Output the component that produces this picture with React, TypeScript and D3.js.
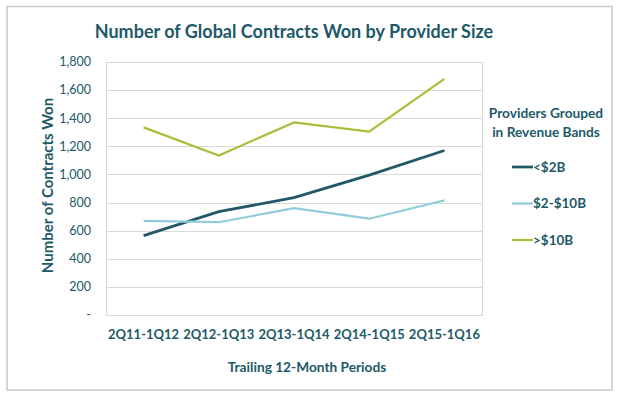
import React, { useEffect, useRef } from 'react';
import * as d3 from 'd3';

const periods = ['2Q11-1Q12', '2Q12-1Q13', '2Q13-1Q14', '2Q14-1Q15', '2Q15-1Q16'];
const seriesNames = ['<$2B', '$2-$10B', '>$10B'];
const under2B = [565, 735, 835, 995, 1170];
const mid2to10B = [670, 660, 760, 685, 815];
const over10B = [1335, 1135, 1370, 1305, 1680];
const yTicks = [0, 200, 400, 600, 800, 1000, 1200, 1400, 1600, 1800];

const colors = ['#215968', '#92CDDC', '#A9BE3A'];
const textColor = '#215968';
const font = 'Lato, "Open Sans", sans-serif';

const App = () => {
    const ref = useRef<SVGSVGElement | null>(null);

    useEffect(() => {
        if (!ref.current) return;
        const svg = d3.select(ref.current);
        svg.selectAll('*').remove();

        const W = 620, H = 397;
        const margin = { top: 62, left: 106, right: 138, bottom: 82 };
        const innerW = W - margin.left - margin.right;
        const innerH = H - margin.top - margin.bottom;

        // outer frame
        svg.append('rect')
            .attr('x', 7).attr('y', 6.5)
            .attr('width', 605).attr('height', 383.5)
            .attr('fill', '#fff')
            .attr('stroke', '#c9c9c9')
            .attr('stroke-width', 1.5);

        const g = svg.append('g').attr('transform', `translate(${margin.left},${margin.top})`);

        const x = d3.scaleBand().domain(periods).range([0, innerW]);
        const y = d3.scaleLinear().domain([0, 1800]).range([innerH, 0]);

        // grid
        g.selectAll('.grid')
            .data(yTicks)
            .enter().append('line')
            .attr('x1', 0).attr('x2', innerW)
            .attr('y1', d => Math.round(y(d)) + 0.5)
            .attr('y2', d => Math.round(y(d)) + 0.5)
            .attr('stroke', '#d9d9d9')
            .attr('stroke-width', 1);

        g.append('rect')
            .attr('x', 0.5).attr('y', Math.round(y(1800)) + 0.5)
            .attr('width', innerW).attr('height', Math.round(y(0)) - Math.round(y(1800)))
            .attr('fill', 'none')
            .attr('stroke', '#d9d9d9');

        // y tick labels
        g.selectAll('.ytick')
            .data(yTicks)
            .enter().append('text')
            .attr('x', -15)
            .attr('y', d => y(d))
            .attr('dy', '0.35em')
            .attr('text-anchor', 'end')
            .attr('fill', textColor)
            .style('font-family', font)
            .style('font-size', '12.5px')
            .text(d => (d === 0 ? '-' : d3.format(',')(d)));

        // x tick labels
        g.selectAll('.xtick')
            .data(periods)
            .enter().append('text')
            .attr('x', d => (x(d) as number) + x.bandwidth() / 2)
            .attr('y', innerH + 24)
            .attr('text-anchor', 'middle')
            .attr('fill', textColor)
            .style('font-family', font)
            .style('font-size', '13px')
            .style('font-weight', 'bold')
            .text(d => d);

        const line = d3.line<number>()
            .x((_, i) => (x(periods[i]) as number) + x.bandwidth() / 2)
            .y(d => y(d));

        const allSeries = [under2B, mid2to10B, over10B];
        allSeries.forEach((s, i) => {
            g.append('path')
                .datum(s)
                .attr('fill', 'none')
                .attr('stroke', colors[i])
                .attr('stroke-width', i === 0 ? 2.75 : 2.25)
                .attr('d', line);
        });

        // title
        svg.append('text')
            .attr('x', 294).attr('y', 38)
            .attr('text-anchor', 'middle')
            .attr('fill', textColor)
            .style('font-family', font)
            .style('font-size', '18px')
            .style('font-weight', 'bold')
            .text('Number of Global Contracts Won by Provider Size');

        // axis titles
        svg.append('text')
            .attr('transform', `translate(53,${margin.top + innerH / 2 - 3}) rotate(-90)`)
            .attr('text-anchor', 'middle')
            .attr('fill', textColor)
            .style('font-family', font)
            .style('font-size', '15px')
            .style('font-weight', 'bold')
            .text('Number of Contracts Won');

        svg.append('text')
            .attr('x', 307).attr('y', 372)
            .attr('text-anchor', 'middle')
            .attr('fill', textColor)
            .style('font-family', font)
            .style('font-size', '13.7px')
            .style('font-weight', 'bold')
            .text('Trailing 12-Month Periods');

        // legend
        const legend = svg.append('g');
        legend.selectAll('.lt')
            .data(['Providers Grouped', 'in Revenue Bands'])
            .enter().append('text')
            .attr('x', 546)
            .attr('y', (_, i) => 118 + i * 19)
            .attr('text-anchor', 'middle')
            .attr('fill', textColor)
            .style('font-family', font)
            .style('font-size', '13.7px')
            .style('font-weight', 'bold')
            .text(d => d);

        const items = legend.selectAll('.li')
            .data(seriesNames)
            .enter().append('g')
            .attr('transform', (_, i) => `translate(512,${167 + i * 36.5})`);
        items.append('line')
            .attr('x1', 0).attr('x2', 21)
            .attr('stroke', (_, i) => colors[i])
            .attr('stroke-width', (_, i) => (i === 0 ? 2.75 : 2.25));
        items.append('text')
            .attr('x', 21)
            .attr('dy', '0.35em')
            .attr('fill', textColor)
            .style('font-family', font)
            .style('font-size', '13.5px')
            .style('font-weight', 'bold')
            .text(d => d);
    }, []);

    return (
        <svg ref={ref} width={620} height={397}
            style={{ position: 'absolute', left: 0, top: 0, background: '#fff' }} />
    );
};

export default App;
